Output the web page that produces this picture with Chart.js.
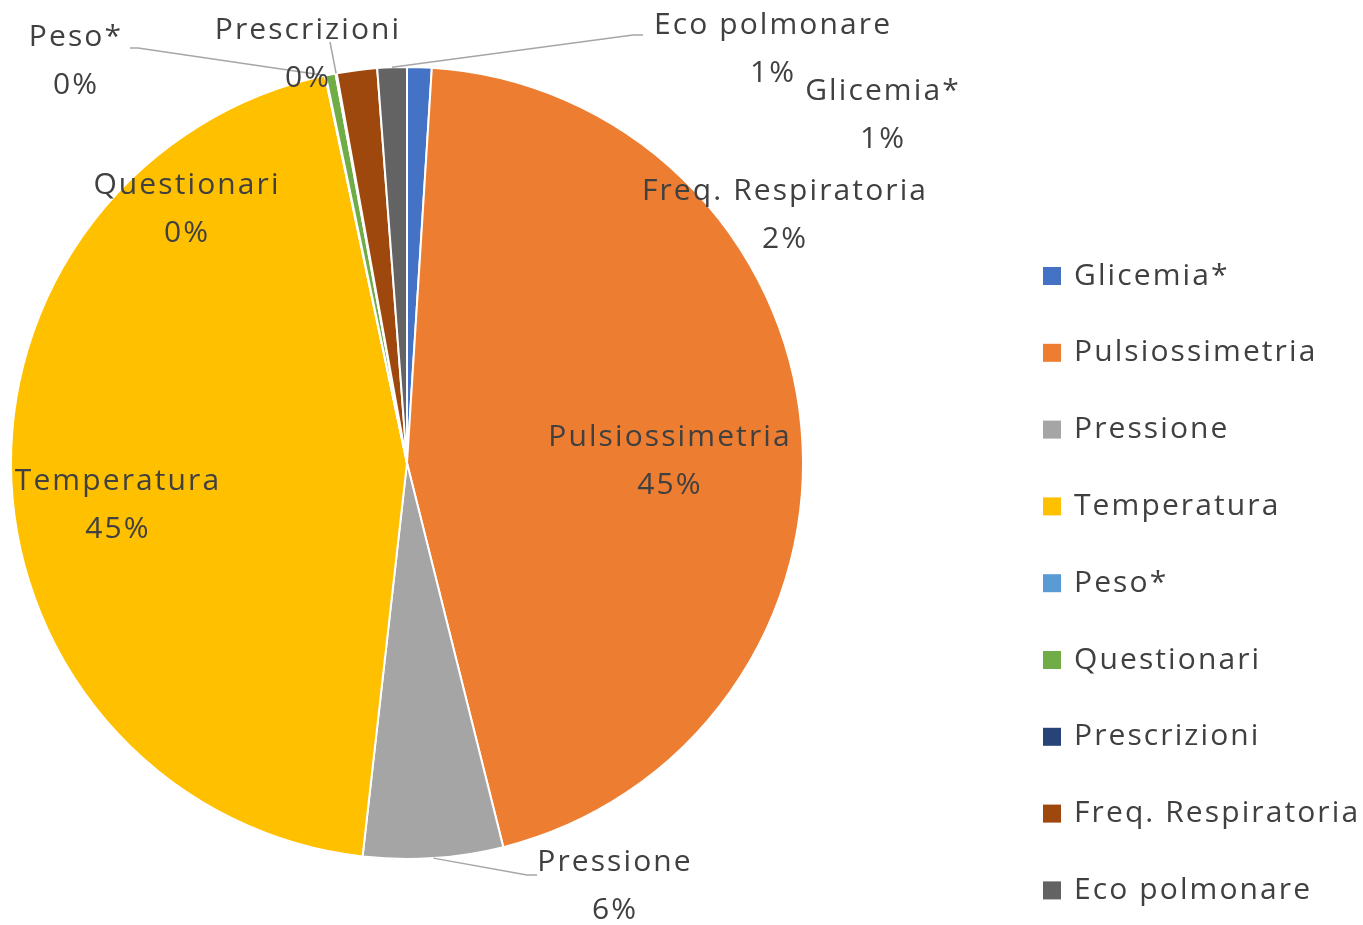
<!DOCTYPE html>
<html>
<head>
<meta charset="utf-8">
<script src="https://cdn.jsdelivr.net/npm/chart.js@4.4.1/dist/chart.umd.min.js"></script>
<style>
  html, body { margin: 0; padding: 0; background: #fff; }
  #contenitore { width: 1363px; height: 925px; }
</style>
</head>
<body>
<div id="contenitore"><canvas id="graficoTorta" width="1363" height="925"></canvas></div>
<script>
const categorie = ['Glicemia*', 'Pulsiossimetria', 'Pressione', 'Temperatura', 'Peso*',
                   'Questionari', 'Prescrizioni', 'Freq. Respiratoria', 'Eco polmonare'];
const valori = [1.0, 45.1, 5.7, 44.9, 0.03, 0.4, 0.05, 1.64, 1.2];
const colori = ['#4472C4', '#ED7D31', '#A5A5A5', '#FFC000', '#5B9BD5',
                '#70AD47', '#264478', '#9E480E', '#636363'];

const FONT = '30px "Open Sans"';
const SPAZIATURA = '2.1px';
const COLORE_TESTO = '#404040';

// dove stanno le etichette (centro del nome) e l'eventuale linea guida
const layoutEtichette = [
  { x: 883, y: 91 },
  { x: 670, y: 437 },
  { x: 615, y: 862, linea: [[527, 875], [537, 875]] },
  { x: 118, y: 481 },
  { x: 76,  y: 37,  linea: [[138, 48], [130, 48]] },
  { x: 187, y: 185 },
  { x: 308, y: 30,  linea: [[330, 42]] },
  { x: 785, y: 191 },
  { x: 773, y: 25,  linea: [[633, 35], [643, 35]] }
];

const totale = valori.reduce((a, b) => a + b, 0);

const etichettePlugin = {
  id: 'etichette',
  afterDatasetsDraw(chart) {
    const ctx = chart.ctx;
    const archi = chart.getDatasetMeta(0).data;
    ctx.save();
    archi.forEach((arco, i) => {
      const pos = layoutEtichette[i];
      if (pos.linea) {
        const p = arco.getProps(['x', 'y', 'startAngle', 'endAngle', 'outerRadius']);
        const medio = (p.startAngle + p.endAngle) / 2;
        ctx.beginPath();
        ctx.moveTo(p.x + Math.cos(medio) * p.outerRadius, p.y + Math.sin(medio) * p.outerRadius);
        pos.linea.forEach(pt => ctx.lineTo(pt[0], pt[1]));
        ctx.strokeStyle = '#A6A6A6';
        ctx.lineWidth = 1.5;
        ctx.stroke();
      }
      const perc = Math.round(valori[i] / totale * 100) + '%';
      ctx.font = FONT;
      ctx.letterSpacing = SPAZIATURA;
      ctx.fillStyle = COLORE_TESTO;
      ctx.textAlign = 'center';
      ctx.textBaseline = 'middle';
      ctx.fillText(categorie[i], pos.x, pos.y);
      ctx.fillText(perc, pos.x, pos.y + 48);
    });
    ctx.restore();
  }
};

const legendaPlugin = {
  id: 'legendaDestra',
  afterDraw(chart) {
    const ctx = chart.ctx;
    ctx.save();
    ctx.font = FONT;
    ctx.letterSpacing = SPAZIATURA;
    ctx.textAlign = 'left';
    ctx.textBaseline = 'middle';
    categorie.forEach((nome, i) => {
      const y = 276 + i * 76.8;
      ctx.fillStyle = colori[i];
      ctx.fillRect(1043, y - 9, 18, 18);
      ctx.fillStyle = COLORE_TESTO;
      ctx.fillText(nome, 1074, y);
    });
    ctx.restore();
  }
};

const ctx = document.getElementById('graficoTorta').getContext('2d');
new Chart(ctx, {
  type: 'pie',
  data: {
    labels: categorie,
    datasets: [{
      data: valori,
      backgroundColor: colori,
      borderColor: '#ffffff',
      borderWidth: 2,
      hoverOffset: 0
    }]
  },
  options: {
    responsive: false,
    animation: false,
    layout: { padding: { left: 10, right: 559, top: 66, bottom: 65 } },
    plugins: {
      legend: { display: false },
      tooltip: { enabled: false }
    }
  },
  plugins: [etichettePlugin, legendaPlugin]
});
</script>
</body>
</html>
